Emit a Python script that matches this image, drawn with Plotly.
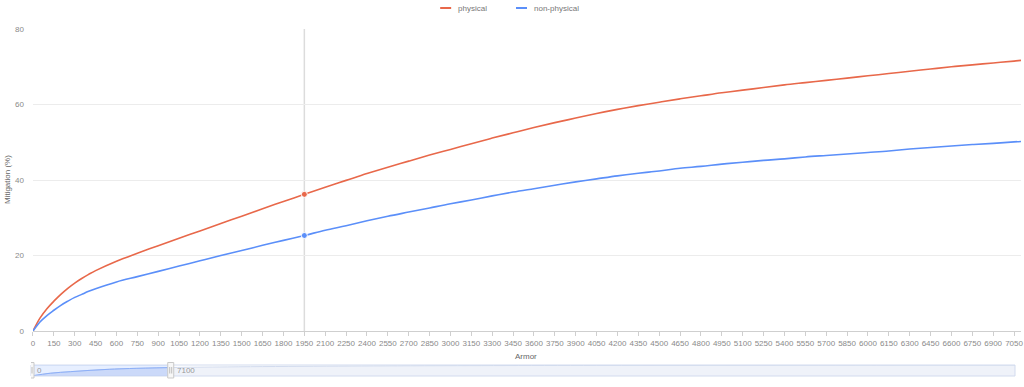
import plotly.graph_objects as go

# ---------------- data ----------------
armor = [0, 50, 100, 150, 200, 250, 300, 350, 400, 450, 600, 750, 900, 1050, 1200, 1350,
         1500, 1650, 1800, 1950, 2100, 2250, 2400, 2550, 2700, 2850, 3000, 3150, 3300,
         3450, 3600, 3750, 3900, 4050, 4200, 4350, 4500, 4650, 4800, 4950, 5100, 5250,
         5400, 5550, 5700, 5850, 6000, 6150, 6300, 6450, 6600, 6750, 6900, 7050, 7100]

physical = [0, 3.4, 5.9, 7.9, 9.7, 11.3, 12.7, 13.9, 15.0, 16.0, 18.5, 20.6, 22.6, 24.6,
            26.5, 28.5, 30.4, 32.4, 34.3, 36.2, 38.1, 39.9, 41.7, 43.4, 45.0, 46.6, 48.1,
            49.6, 51.1, 52.5, 53.9, 55.2, 56.4, 57.6, 58.7, 59.7, 60.6, 61.5, 62.3, 63.1,
            63.8, 64.5, 65.2, 65.8, 66.4, 67.0, 67.6, 68.2, 68.8, 69.4, 70.0, 70.5, 71.0,
            71.5, 71.7]

non_physical = [0, 2.4, 4.1, 5.5, 6.8, 7.9, 8.9, 9.7, 10.5, 11.2, 13.0, 14.4, 15.8, 17.2,
                18.6, 20.0, 21.3, 22.7, 24.0, 25.3, 26.7, 27.9, 29.2, 30.4, 31.5, 32.6,
                33.7, 34.7, 35.8, 36.8, 37.7, 38.6, 39.5, 40.3, 41.1, 41.8, 42.4, 43.1,
                43.6, 44.2, 44.7, 45.2, 45.6, 46.1, 46.5, 46.9, 47.3, 47.7, 48.2, 48.6,
                49.0, 49.4, 49.7, 50.1, 50.2]

# overview (data-zoom shadow) of the full dataset
overview_armor = [0, 1000, 2000, 3000, 4000, 5000, 7100, 10000, 15000, 20000, 30000, 40000, 50000]
overview_physical = [0, 23.9, 36.9, 48.1, 57.3, 63.6, 71.7, 77.5, 83.5, 87.0, 90.5, 92.3, 93.5]

window = [0, 7100]          # data-zoom window
pointer_armor = 1950        # axis pointer position
x_ticks = list(range(0, 7051, 150))
y_ticks = [0, 20, 40, 60, 80]

series_names = ["physical", "non-physical"]
colors = ["#E8684A", "#5B8FF9"]

# ---------------- layout helpers ----------------
W, H = 1024, 387
ML, MR, MT, MB = 31, 1, 29, 10
PW, PH = W - ML - MR, H - MT - MB


def px(x):
    return (x - ML) / PW


def py(y):
    return (H - MB - y) / PH


FONT = "Liberation Sans, Arial, sans-serif"
TICK_COLOR = "#8a8a8a"

fig = go.Figure()

for name, vals, col in zip(series_names, [physical, non_physical], colors):
    fig.add_trace(go.Scatter(x=armor, y=vals, mode="lines", name=name,
                             line=dict(color=col, width=1.6, shape="spline", smoothing=1.0),
                             showlegend=False, hoverinfo="skip"))

# hover markers at the axis pointer
idx = armor.index(pointer_armor)
for vals, col in zip([physical, non_physical], colors):
    fig.add_trace(go.Scatter(x=[pointer_armor], y=[vals[idx]], mode="markers",
                             marker=dict(color=col, size=6, line=dict(color="white", width=1)),
                             showlegend=False, hoverinfo="skip"))

# data-zoom shadow
fig.add_trace(go.Scatter(x=overview_armor, y=overview_physical, mode="lines",
                         xaxis="x2", yaxis="y2", fill="tozeroy",
                         fillcolor="rgba(210,219,238,0.35)",
                         line=dict(color="#d2dbee", width=1, shape="spline"),
                         showlegend=False, hoverinfo="skip"))
sel_x = [a for a in overview_armor if window[0] <= a <= window[1]]
sel_y = [v for a, v in zip(overview_armor, overview_physical) if window[0] <= a <= window[1]]
fig.add_trace(go.Scatter(x=sel_x, y=sel_y, mode="lines", xaxis="x2", yaxis="y2",
                         fill="tozeroy", fillcolor="rgba(143,176,247,0.2)",
                         line=dict(color="#8fb0f7", width=1, shape="spline"),
                         showlegend=False, hoverinfo="skip"))

shapes = []
# axis pointer line
shapes.append(dict(type="line", xref="x", yref="y", x0=pointer_armor, x1=pointer_armor,
                   y0=0, y1=80, line=dict(color="#dcdcdc", width=1.5), layer="below"))
# slider background + filler
shapes.append(dict(type="rect", xref="x2 domain", yref="y2 domain", x0=0, x1=1, y0=0, y1=1,
                   line=dict(color="#d2dbee", width=1), fillcolor="rgba(0,0,0,0)"))
shapes.append(dict(type="rect", xref="x2", yref="y2 domain", x0=window[0], x1=window[1],
                   y0=0, y1=1, line=dict(width=0), fillcolor="rgba(135,175,255,0.2)"))
# handles
for w in window:
    shapes.append(dict(type="rect", xref="x2", xsizemode="pixel", xanchor=w, x0=-3, x1=3,
                       yref="paper", y0=py(378), y1=py(362.5),
                       line=dict(color="#c9c9c9", width=1), fillcolor="#f7f7f7"))
    for dx in (-1, 1):
        shapes.append(dict(type="line", xref="x2", xsizemode="pixel", xanchor=w, x0=dx, x1=dx,
                           yref="paper", y0=py(373.5), y1=py(367),
                           line=dict(color="#bdbdbd", width=1)))

# legend (manual, ECharts style)
legend_pos = [(441, 457), (517, 533)]
annotations = []
for (lx, tx), name, col in zip(legend_pos, series_names, colors):
    shapes.append(dict(type="line", xref="paper", yref="paper", x0=px(lx), x1=px(lx + 11),
                       y0=py(8), y1=py(8), line=dict(color=col, width=2)))
    annotations.append(dict(text=name, xref="paper", yref="paper", x=px(tx), y=py(8),
                            xanchor="left", yanchor="middle", showarrow=False,
                            font=dict(size=8, color="#777", family=FONT)))

# axis titles
annotations.append(dict(text="Armor", xref="paper", yref="paper", x=px(527), y=py(356),
                        xanchor="center", yanchor="middle", showarrow=False,
                        font=dict(size=8, color="#666", family=FONT)))
annotations.append(dict(text="Mitigation (%)", xref="paper", yref="paper", x=px(7), y=py(180),
                        xanchor="center", yanchor="middle", textangle=-90, showarrow=False,
                        font=dict(size=8, color="#666", family=FONT)))
# slider labels
for w in window:
    annotations.append(dict(text=str(w), xref="x2", yref="paper", x=w, y=py(370.5),
                            xanchor="left", yanchor="middle", xshift=4, showarrow=False,
                            font=dict(size=8, color="#999", family=FONT)))

fig.update_layout(
    width=W, height=H,
    margin=dict(l=ML, r=MR, t=MT, b=MB),
    paper_bgcolor="white", plot_bgcolor="white",
    font=dict(family=FONT, size=8, color=TICK_COLOR),
    showlegend=False,
    xaxis=dict(domain=[px(33), 1], range=[0, 7100], tickmode="array", tickvals=x_ticks,
               ticktext=[str(t) for t in x_ticks], tickangle=0, ticklabeloverflow="allow",
               showgrid=False, zeroline=False, showline=True, linecolor="#cfcfcf",
               linewidth=1, ticks="outside", ticklen=4, tickcolor="#cfcfcf",
               tickfont=dict(size=8, color=TICK_COLOR, family=FONT), anchor="y"),
    yaxis=dict(domain=[py(331), 1], range=[0, 80], tickvals=y_ticks,
               showgrid=True, gridcolor="#ececec", gridwidth=1, zeroline=False,
               showline=False, ticks="", ticklabelstandoff=8,
               tickfont=dict(size=8, color=TICK_COLOR, family=FONT), anchor="x"),
    xaxis2=dict(domain=[px(31), px(1017)], range=[0, max(overview_armor)], visible=False,
                anchor="y2"),
    yaxis2=dict(domain=[py(376), py(365)], range=[0, max(overview_physical)], visible=False,
                anchor="x2"),
    shapes=shapes,
    annotations=annotations,
)

fig.write_html("out.html", config={"displayModeBar": False},
               post_script="document.body.style.margin='0';")
